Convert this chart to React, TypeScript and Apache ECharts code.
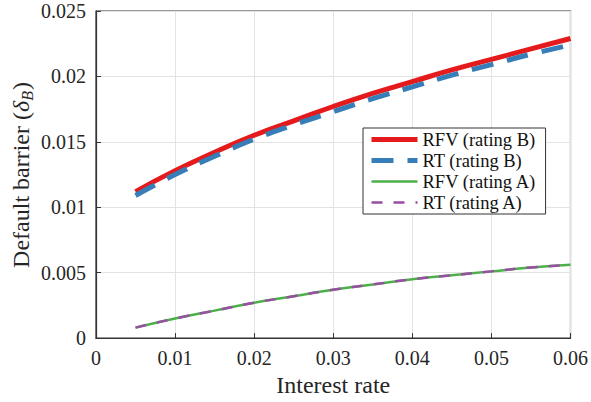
import React, { useEffect, useRef } from "react";
import * as echarts from "echarts";

const rates = [0.005, 0.01, 0.015, 0.02, 0.025, 0.03, 0.035, 0.04, 0.045, 0.05, 0.055, 0.06];
const rfvB = [0.0112, 0.0128, 0.0142, 0.0155, 0.0166, 0.0177, 0.0187, 0.0196, 0.0205, 0.0213, 0.0221, 0.0229];
const rtB = [0.0109, 0.0125, 0.0139, 0.0152, 0.0163, 0.0173, 0.0183, 0.0192, 0.0201, 0.0209, 0.0217, 0.0224];
const rfvA = [0.0008, 0.0015, 0.0021, 0.0027, 0.0032, 0.0037, 0.0041, 0.0045, 0.0048, 0.0051, 0.0054, 0.0056];
const rtA = [0.0008, 0.0015, 0.0021, 0.0027, 0.0032, 0.0037, 0.0041, 0.0045, 0.0048, 0.0051, 0.0054, 0.0056];
const seriesNames = ["RFV (rating B)", "RT (rating B)", "RFV (rating A)", "RT (rating A)"];
const legendWidths = [5, 5, 2.5, 2.5];
const yNameParts = ["Default barrier (", "δ", "B", ")"];

function pairs(ys: number[]) {
  return rates.map((x, i) => [x, ys[i]]);
}

function measure(text: string, font: string) {
  const c = document.createElement("canvas").getContext("2d");
  if (!c) return text.length * 10;
  c.font = font;
  return c.measureText(text).width;
}

export default function App() {
  const ref = useRef<HTMLDivElement>(null);
  useEffect(() => {
    const chart = echarts.init(ref.current!, null, { renderer: "svg" });

    const fonts = [
      { size: 24, style: "normal", dy: 0 },
      { size: 24, style: "italic", dy: 0 },
      { size: 16, style: "italic", dy: 6 },
      { size: 24, style: "normal", dy: 0 },
    ];
    const widths = yNameParts.map((t, i) =>
      measure(t, `${fonts[i].style} ${fonts[i].size}px Liberation Serif`) + (i === 2 ? 1 : 0)
    );
    const total = widths.reduce((a, b) => a + b, 0);
    let cursor = -total / 2;
    const yNameChildren = yNameParts.map((t, i) => {
      const el = {
        type: "text",
        x: cursor,
        y: fonts[i].dy,
        style: {
          text: t,
          fontFamily: "Liberation Serif",
          fontSize: fonts[i].size,
          fontStyle: fonts[i].style,
          fill: "#262626",
          align: "left",
          verticalAlign: "middle",
        },
      };
      cursor += widths[i];
      return el;
    });

    chart.setOption({
      animation: false,
      textStyle: { fontFamily: "Liberation Serif" },
      grid: {
        left: 96, right: 19, top: 11, bottom: 62,
        show: true, borderColor: "#333333", borderWidth: 1.2,
      },
      xAxis: {
        type: "value", min: 0, max: 0.06, interval: 0.01,
        name: "Interest rate", nameLocation: "middle", nameGap: 32,
        axisLine: { show: true, lineStyle: { color: "#333333", width: 1.2 } },
        axisTick: { show: true, inside: true, length: 5, lineStyle: { color: "#333333" } },
        splitLine: { show: true, lineStyle: { color: "#e3e3e3", width: 1 } },
        axisLabel: { color: "#262626", fontFamily: "Liberation Serif", fontSize: 20, margin: 10 },
        nameTextStyle: { color: "#262626", fontFamily: "Liberation Serif", fontSize: 24 },
      },
      yAxis: {
        type: "value", min: 0, max: 0.025, interval: 0.005,
        axisLine: { show: true, lineStyle: { color: "#333333", width: 1.2 } },
        axisTick: { show: true, inside: true, length: 5, lineStyle: { color: "#333333" } },
        splitLine: { show: true, lineStyle: { color: "#e3e3e3", width: 1 } },
        axisLabel: { color: "#262626", fontFamily: "Liberation Serif", fontSize: 20, margin: 10 },
      },
      graphic: [
        { type: "group", x: 21, y: 175, rotation: Math.PI / 2, children: yNameChildren },
      ],
      legend: {
        orient: "vertical",
        left: 363, top: 128,
        backgroundColor: "#ffffff",
        borderColor: "#333333", borderWidth: 1,
        padding: [2, 9, 2, 6],
        itemWidth: 46, itemHeight: 20, itemGap: 2,
        itemStyle: { opacity: 0 },
        textStyle: { fontFamily: "Liberation Serif", fontSize: 18.5, color: "#111111" },
        data: seriesNames.map((n, i) => ({ name: n, lineStyle: { width: legendWidths[i] } })),
      },
      series: [
        {
          name: seriesNames[0], type: "line", data: pairs(rfvB), smooth: true, symbol: "none",
          lineStyle: { color: "#e41a1c", width: 5 }, itemStyle: { color: "#e41a1c" }, z: 2,
        },
        {
          name: seriesNames[1], type: "line", data: pairs(rtB), smooth: true, symbol: "none",
          lineStyle: { color: "#377eb8", width: 5, type: [22, 14] }, itemStyle: { color: "#377eb8" }, z: 3,
        },
        {
          name: seriesNames[2], type: "line", data: pairs(rfvA), smooth: true, symbol: "none",
          lineStyle: { color: "#4daf4a", width: 2.5 }, itemStyle: { color: "#4daf4a" }, z: 4,
        },
        {
          name: seriesNames[3], type: "line", data: pairs(rtA), smooth: true, symbol: "none",
          lineStyle: { color: "#984ea3", width: 2.5, type: [11, 11] }, itemStyle: { color: "#984ea3" }, z: 5,
        },
      ],
    });
    return () => chart.dispose();
  }, []);
  return <div ref={ref} style={{ width: 591, height: 402, position: "absolute", left: 0, top: 0 }} />;
}
